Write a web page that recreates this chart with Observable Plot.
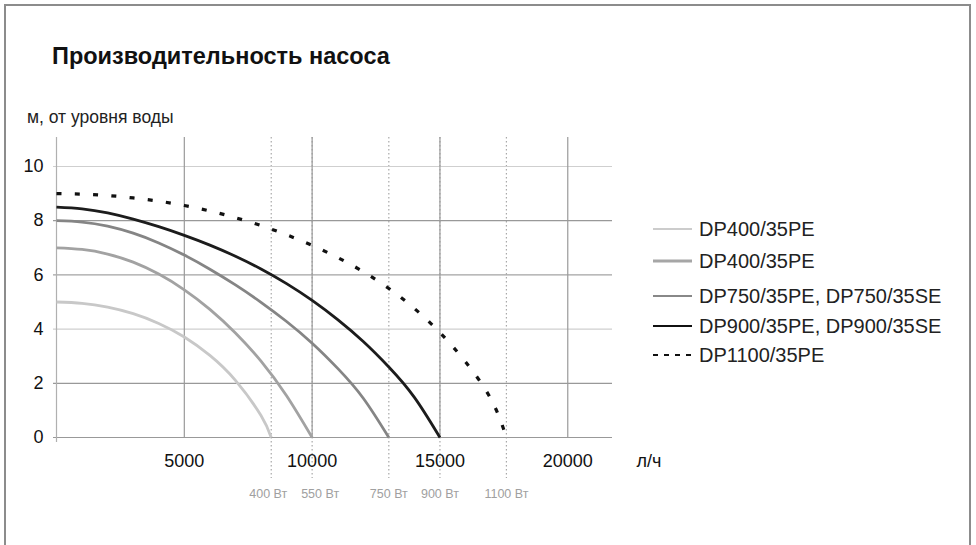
<!DOCTYPE html>
<html>
<head>
<meta charset="utf-8">
<script src="https://cdn.jsdelivr.net/npm/d3@7"></script>
<script src="https://cdn.jsdelivr.net/npm/@observablehq/plot@0.6"></script>
<style>
  html, body { margin: 0; padding: 0; background: #fff; }
  #wrap { position: relative; width: 976px; height: 545px; overflow: hidden; background: #fff;
          font-family: "Liberation Sans", Arial, Helvetica, sans-serif; color: #111; }
  #frame { position: absolute; left: 4px; top: 4px; width: 963px; height: 700px;
           border: 2.5px solid #8c8c8c; border-bottom: none; box-sizing: content-box; }
  #chart { position: absolute; left: 0; top: 0; }
  .abs { position: absolute; white-space: nowrap; line-height: 1; }
  #title { left: 52px; top: 45px; font-size: 23.5px; font-weight: bold; color: #111; }
  #ylab { left: 27px; top: 109px; font-size: 17.5px; color: #222; }
  .leg { position: absolute; left: 653px; height: 20px; display: flex; align-items: center;
         font-size: 20px; color: #222; white-space: nowrap; }
  .leg svg { margin-right: 7px; }
</style>
</head>
<body>
<div id="wrap">
  <div id="chart"></div>
  <div id="frame"></div>
  <div id="title" class="abs">Производительность насоса</div>
  <div id="ylab" class="abs">м, от уровня воды</div>
  <div id="legend"></div>
</div>
<script>
// ---- data ----
const seriesNames = ["DP400/35PE", "DP400/35PE", "DP750/35PE, DP750/35SE", "DP900/35PE, DP900/35SE", "DP1100/35PE"];

const flow400a = [0, 1000, 2000, 3000, 4000, 5000, 6000, 7000, 8000, 8400];
const head400a = [5, 4.95, 4.81, 4.57, 4.21, 3.71, 3.03, 2.11, 0.81, 0];

const flow400b = [0, 1000, 2000, 3000, 4000, 5000, 6000, 7000, 8000, 9000, 10000];
const head400b = [7, 6.94, 6.77, 6.47, 6.03, 5.45, 4.73, 3.86, 2.82, 1.54, 0];

const flow750 = [0, 1000, 2000, 3000, 4000, 5000, 6000, 7000, 8000, 9000, 10000, 11000, 12000, 13000];
const head750 = [8, 7.95, 7.8, 7.54, 7.18, 6.73, 6.21, 5.63, 4.99, 4.28, 3.48, 2.55, 1.45, 0];

const flow900 = [0, 1000, 2000, 3000, 4000, 5000, 6000, 7000, 8000, 9000, 10000, 11000, 12000, 13000, 14000, 15000];
const head900 = [8.5, 8.44, 8.29, 8.06, 7.78, 7.46, 7.1, 6.69, 6.22, 5.68, 5.06, 4.35, 3.54, 2.6, 1.48, 0];

const flow1100 = [0, 1000, 2000, 3000, 4000, 5000, 6000, 7000, 8000, 9000, 10000, 11000, 12000, 13000, 14000, 15000, 16000, 17000, 17600];
const head1100 = [9, 8.98, 8.93, 8.84, 8.72, 8.56, 8.36, 8.11, 7.82, 7.48, 7.09, 6.64, 6.12, 5.5, 4.76, 3.87, 2.79, 1.41, 0];

const xTicks = [5000, 10000, 15000, 20000];
const yTicks = [0, 2, 4, 6, 8, 10];
const xUnit = "л/ч";
const powerFlow = [8400, 10000, 13000, 15000, 17600];
const powerLabels = ["400 Вт", "550 Вт", "750 Вт", "900 Вт", "1100 Вт"];

// ---- styles ----
const seriesStyle = [
  {stroke: "#c8c8c8", strokeWidth: 2.8},
  {stroke: "#a2a2a2", strokeWidth: 2.8},
  {stroke: "#858585", strokeWidth: 2.8},
  {stroke: "#1c1c1c", strokeWidth: 2.8},
  {stroke: "#111111", strokeWidth: 3.2, strokeDasharray: "5,13.3"}
];
const legendStyle = [
  {stroke: "#cccccc", w: 2, y: 229},
  {stroke: "#a6a6a6", w: 3, y: 261},
  {stroke: "#888888", w: 2, y: 296},
  {stroke: "#111111", w: 2, y: 326},
  {stroke: "#111111", w: 2, y: 355, dash: "5,6"}
];
const gridColor = {0: "#999", 2: "#999", 4: "#cfcfcf", 6: "#a3a3a3", 8: "#999", 10: "#cfcfcf"};
const labelShift = [-3, 8, 0, 0, 0];

const flows = [flow400a, flow400b, flow750, flow900, flow1100];
const heads = [head400a, head400b, head750, head900, head1100];
const rows = flows.flatMap((fl, s) => fl.map((f, i) => ({s, flow: f, head: heads[s][i]})));

const font = "'Liberation Sans', Arial, Helvetica, sans-serif";

const marks = [
  // power marker lines (dotted), extending below the axis
  Plot.ruleX(powerFlow, {x: d => d, stroke: "#a8a8a8", strokeWidth: 1.2, strokeDasharray: "1.4,2.6", insetBottom: -41}),
  // horizontal grid
  ...yTicks.map(t => Plot.ruleY([t], {y: d => d, stroke: gridColor[t], strokeWidth: 1.2, insetLeft: -3})),
  // vertical grid
  Plot.ruleX(xTicks, {x: d => d, stroke: "#9a9a9a", strokeWidth: 1.2}),
  Plot.ruleX([0], {x: d => d, stroke: "#b0b0b0", strokeWidth: 1.2, insetBottom: -5}),
  // curves
  ...seriesNames.map((name, s) => Plot.line(rows.filter(r => r.s === s), {
    x: "flow", y: "head", curve: "natural", strokeLinecap: "butt", ...seriesStyle[s]
  })),
  // y tick labels
  Plot.text(yTicks, {y: d => d, text: d => String(d), frameAnchor: "left", textAnchor: "end", dx: -13,
    lineAnchor: "middle", fontSize: 18, fill: "#111"}),
  // x tick labels
  Plot.text(xTicks, {x: d => d, text: d => String(d), frameAnchor: "bottom", dy: 24,
    lineAnchor: "middle", fontSize: 18, fill: "#111"}),
  // x unit
  Plot.text([xUnit], {text: d => d, frameAnchor: "bottom-right", textAnchor: "start", dx: 24, dy: 24,
    lineAnchor: "middle", fontSize: 18, fill: "#111"}),
  // power labels
  ...powerLabels.map((lab, i) => Plot.text([i], {x: j => powerFlow[j], text: j => powerLabels[j],
    frameAnchor: "bottom", dy: 56.5, dx: labelShift[i], lineAnchor: "middle", fontSize: 12.5, fill: "#a0a0a0"}))
];

const chart = Plot.plot({
  width: 976,
  height: 545,
  marginLeft: 56,
  marginRight: 364,
  marginTop: 137,
  marginBottom: 108,
  x: {domain: [0, 21750], axis: null},
  y: {domain: [0, 11.07], axis: null},
  style: {fontFamily: font, background: "transparent", overflow: "visible"},
  marks
});
document.getElementById("chart").appendChild(chart);

// legend
const legend = document.getElementById("legend");
seriesNames.forEach((name, i) => {
  const st = legendStyle[i];
  const row = document.createElement("div");
  row.className = "leg";
  row.style.top = (st.y - 10) + "px";
  row.innerHTML = `<svg width="39" height="8"><line x1="0" x2="39" y1="4" y2="4" stroke="${st.stroke}" stroke-width="${st.w}" ${st.dash ? `stroke-dasharray="${st.dash}"` : ""}/></svg><span>${name}</span>`;
  legend.appendChild(row);
});
</script>
</body>
</html>
